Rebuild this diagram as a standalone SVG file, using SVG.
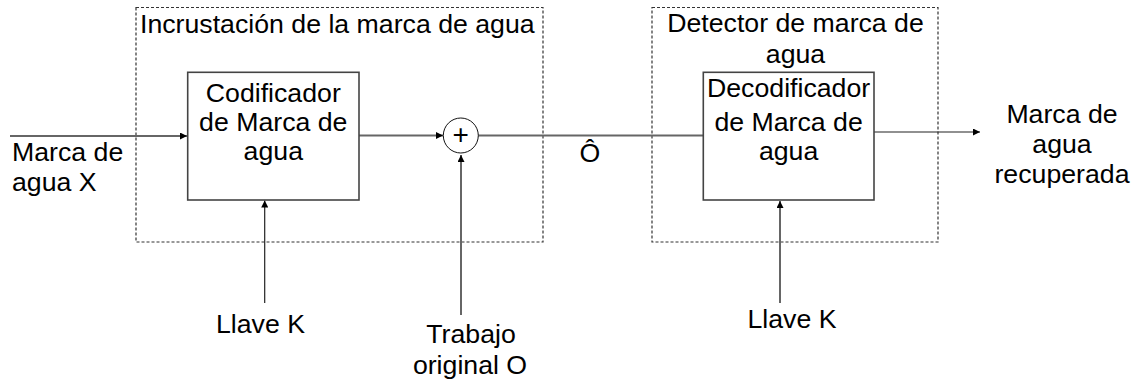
<svg xmlns="http://www.w3.org/2000/svg" width="1135" height="383" viewBox="0 0 1135 383">
<defs>
<style>
text{font-family:"Liberation Sans",Arial,sans-serif;font-size:26.7px;fill:#000}
.mid{text-anchor:middle}
.group{fill:none;stroke:#333;stroke-width:1.2;stroke-dasharray:3,2}
.box{fill:#fff;stroke:#444;stroke-width:1.6}
.wire{fill:none;stroke:#666;stroke-width:2}
.thin{fill:none;stroke:#222;stroke-width:1.2}
</style>
<marker id="arr" viewBox="0 0 10 10" refX="10" refY="5" markerUnits="userSpaceOnUse" markerWidth="9" markerHeight="7" orient="auto">
<path d="M0,0 L10,5 L0,10 z" fill="#000"/>
</marker>
</defs>
<rect width="1135" height="383" fill="#fff"/>
<g id="embedding">
<rect class="group" x="136" y="7.5" width="407" height="234.5"/>
<text x="140" y="33">Incrustación de la marca de agua</text>
</g>
<g id="detector">
<rect class="group" x="652" y="7.5" width="286" height="234.5"/>
<text class="mid" x="795.5" y="32">Detector de marca de</text>
<text class="mid" x="795.5" y="63">agua</text>
</g>
<g id="connectors">
<line class="wire" x1="10" y1="136" x2="187" y2="136" marker-end="url(#arr)"/>
<line class="wire" x1="359" y1="135.5" x2="443" y2="135.5" marker-end="url(#arr)"/>
<line class="wire" x1="478" y1="135.5" x2="703" y2="135.5"/>
<line class="thin" x1="874" y1="132" x2="980" y2="132" marker-end="url(#arr)"/>
<line class="thin" x1="264.7" y1="303" x2="264.7" y2="200.5" marker-end="url(#arr)"/>
<line class="wire" x1="461" y1="315" x2="461" y2="155" marker-end="url(#arr)"/>
<line class="wire" x1="780" y1="303" x2="780" y2="201" marker-end="url(#arr)"/>
</g>
<g id="encoder">
<rect class="box" x="187.7" y="72.3" width="171.3" height="127.7"/>
<text class="mid" x="273.3" y="101.7">Codificador</text>
<text class="mid" x="273.3" y="130.7">de Marca de</text>
<text class="mid" x="273.3" y="160">agua</text>
</g>
<g id="adder">
<circle cx="460.8" cy="135.5" r="17.5" fill="#fff" stroke="#111" stroke-width="1"/>
<text class="mid" x="460.8" y="144" style="font-size:28px">+</text>
</g>
<g id="decoder">
<rect class="box" x="703.3" y="72.3" width="170.7" height="127.7"/>
<text class="mid" x="788.6" y="97.3">Decodificador</text>
<text class="mid" x="788.6" y="130.7">de Marca de</text>
<text class="mid" x="788.6" y="160">agua</text>
</g>
<g id="input-label">
<text x="12" y="161">Marca de</text>
<text x="12" y="191">agua X</text>
</g>
<g id="o-hat">
<text class="mid" x="590" y="161.7">Ô</text>
</g>
<g id="output-label">
<text class="mid" x="1062" y="123.3">Marca de</text>
<text class="mid" x="1062" y="153.3">agua</text>
<text class="mid" x="1062" y="183.3">recuperada</text>
</g>
<g id="key1">
<text class="mid" x="260.5" y="333.3">Llave K</text>
</g>
<g id="original">
<text class="mid" x="471" y="343.3">Trabajo</text>
<text class="mid" x="470" y="374.3">original O</text>
</g>
<g id="key2">
<text class="mid" x="792" y="328">Llave K</text>
</g>
</svg>
